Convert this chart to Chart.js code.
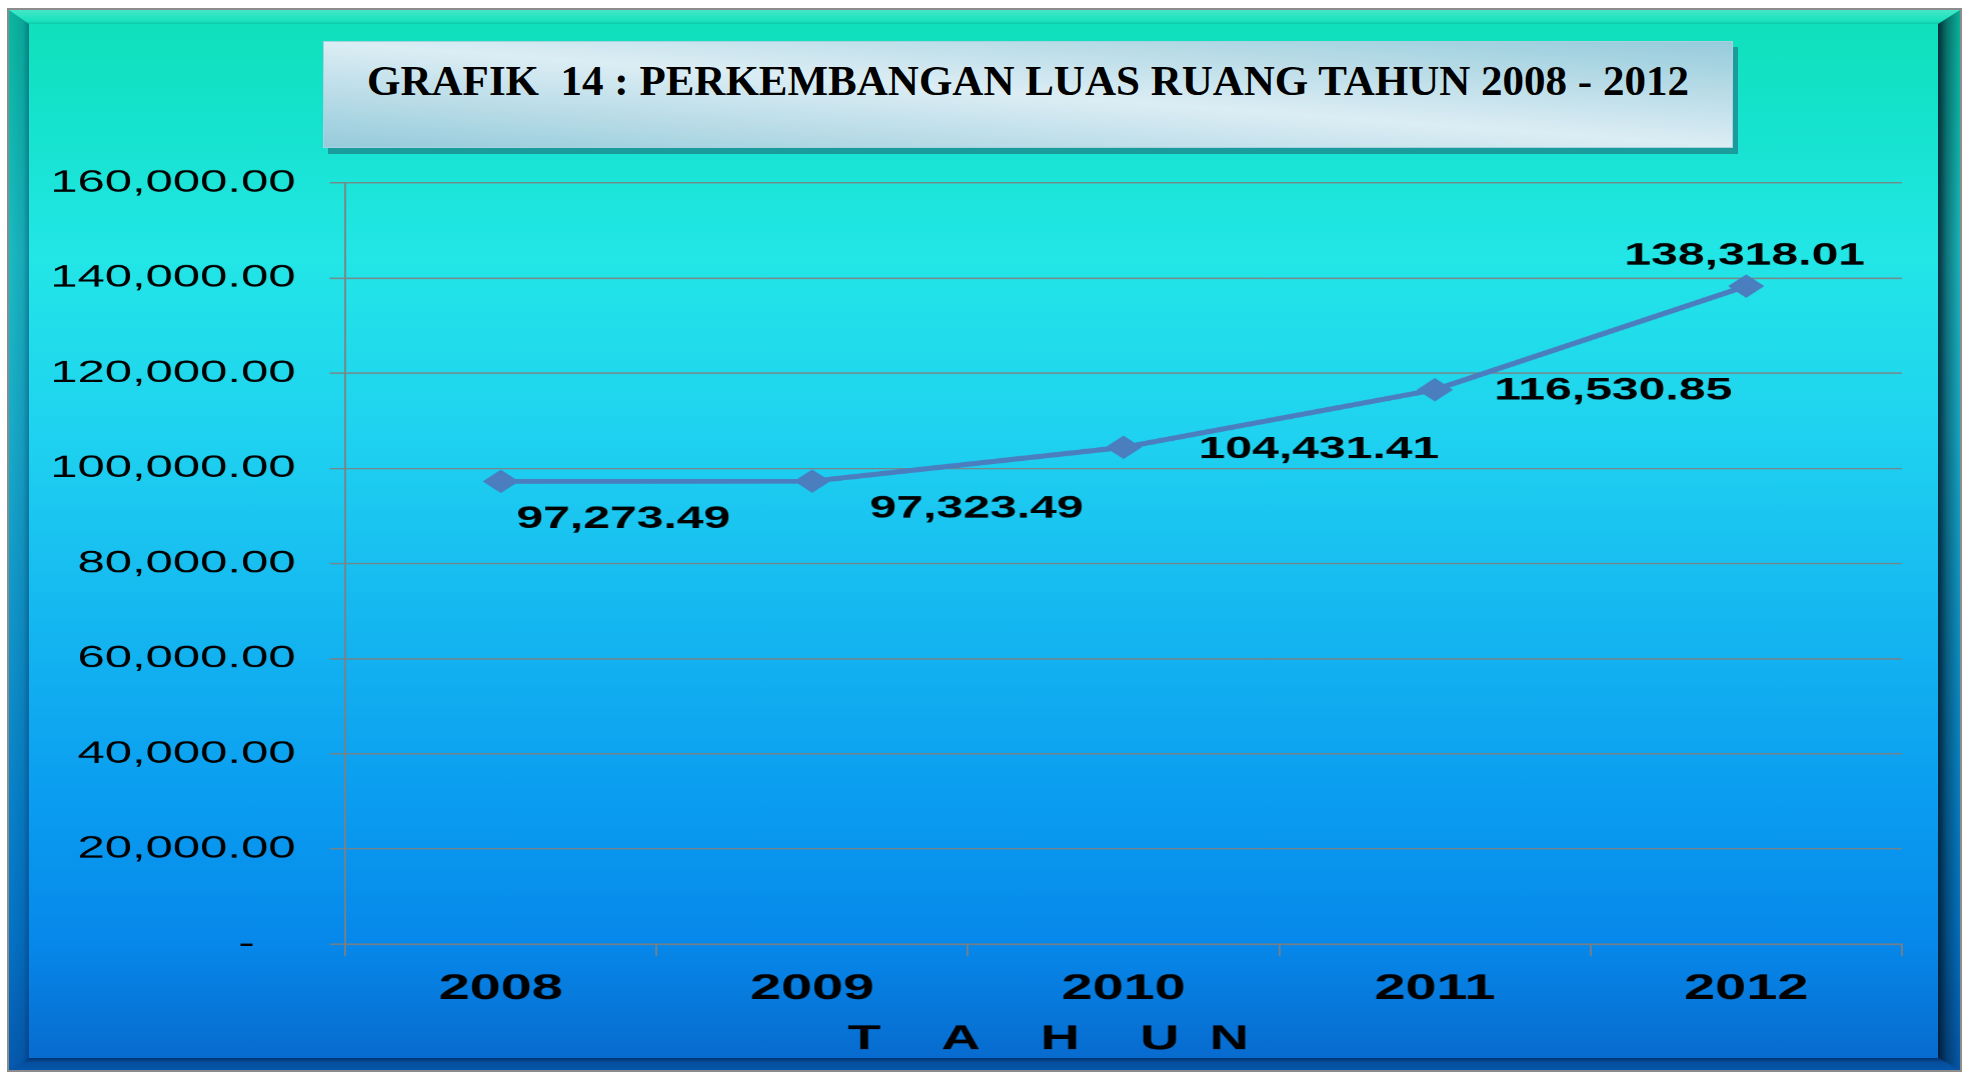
<!DOCTYPE html>
<html>
<head>
<meta charset="utf-8">
<script src="https://cdn.jsdelivr.net/npm/chart.js@4.4.1/dist/chart.umd.min.js"></script>
<style>
  html, body { margin: 0; padding: 0; background: #fff; }
  body { width: 1965px; height: 1075px; position: relative; overflow: hidden; }
  #frame {
    position: absolute; left: 7px; top: 8px; width: 1955px; height: 1064px;
    box-sizing: border-box; border: 2px solid #8c8c8c;
    background: linear-gradient(to bottom,
      #0fe0b8 0%, #14e2ca 9%, #22e6e6 23%, #1fd2f0 40%,
      #14b6f0 58%, #0a9cf0 75%, #0688ea 88%, #0868cc 100%);
  }
  .bev { position: absolute; }
  #bevTop { left: 0; top: 0; width: 100%; height: 14px;
    background: linear-gradient(to bottom, rgba(255,255,255,0.22), rgba(255,255,255,0.04) 80%, rgba(0,60,60,0.15));
    clip-path: polygon(0 0, 100% 0, calc(100% - 22px) 100%, 20px 100%); }
  #bevLeft { left: 0; top: 0; width: 20px; height: 100%;
    background: linear-gradient(to right, rgba(0,40,70,0.22), rgba(0,40,80,0.32) 70%, rgba(0,30,70,0.5));
    clip-path: polygon(0 0, 100% 14px, 100% calc(100% - 12px), 0 100%); }
  #bevRight { right: 0; top: 0; width: 22px; height: 100%;
    background: linear-gradient(to right, rgba(0,15,30,0.85), rgba(0,25,40,0.55) 40%, rgba(0,30,50,0.25));
    clip-path: polygon(0 14px, 100% 0, 100% 100%, 0 calc(100% - 12px)); }
  #bevBottom { left: 0; bottom: 0; width: 100%; height: 12px;
    background: linear-gradient(to bottom, rgba(0,20,60,0.65), rgba(0,30,70,0.35) 40%, rgba(0,30,70,0.25));
    clip-path: polygon(20px 0, calc(100% - 22px) 0, 100% 100%, 0 100%); }
  #titleBox {
    position: absolute; left: 323px; top: 41px; width: 1410px; height: 107px;
    box-sizing: border-box; border: 1px solid #a6d3df;
    background: linear-gradient(to top right, #96cbdb 0%, #dcedf4 50%, #96cbdb 100%);
    box-shadow: 5px 6px 0 #1a9c9c;
    font-family: "Liberation Serif", "Times New Roman", serif; font-weight: bold;
    font-size: 43px; line-height: 50px; text-align: center; white-space: pre;
    padding-top: 14px; color: #000;
  }
  #wrap {
    position: absolute; left: 10px; top: 142px; width: 1258px; height: 915px;
    transform: scaleX(1.55); transform-origin: 0 0;
  }
</style>
</head>
<body>
<div id="frame">
  <div class="bev" id="bevTop"></div>
  <div class="bev" id="bevLeft"></div>
  <div class="bev" id="bevRight"></div>
  <div class="bev" id="bevBottom"></div>
</div>
<div id="titleBox">GRAFIK  14 : PERKEMBANGAN LUAS RUANG TAHUN 2008 - 2012</div>
<div id="wrap"><canvas id="luasChart"></canvas></div>
<script>
const years = ['2008', '2009', '2010', '2011', '2012'];
const luasRuang = [97273.49, 97323.49, 104431.41, 116530.85, 138318.01];
const yTickLabels = ['-   ', '20,000.00', '40,000.00', '60,000.00', '80,000.00',
  '100,000.00', '120,000.00', '140,000.00', '160,000.00'];

// where each value label sits relative to its point (canvas units, before the x stretch)
const labelOffsets = [[79, 38], [106, 28], [126, 2], [115, 1], [-1, -30]];

const gridGray = 'rgba(128,128,128,0.9)';
Chart.defaults.font.family = '"Liberation Sans", Arial, sans-serif';
Chart.defaults.color = '#000';

const valueLabels = {
    id: 'valueLabels',
    afterDatasetsDraw(chart) {
        const ctx = chart.ctx;
        const meta = chart.getDatasetMeta(0);
        ctx.save();
        ctx.font = 'bold 31px "Liberation Sans", Arial, sans-serif';
        ctx.fillStyle = '#000';
        ctx.textAlign = 'center';
        ctx.textBaseline = 'middle';
        meta.data.forEach((pt, i) => {
            const txt = luasRuang[i].toLocaleString('en-US', { minimumFractionDigits: 2, maximumFractionDigits: 2 });
            ctx.fillText(txt, pt.x + labelOffsets[i][0], pt.y + labelOffsets[i][1]);
        });
        ctx.restore();
    }
};

const ctx = document.getElementById('luasChart').getContext('2d');
const luasChart = new Chart(ctx, {
    type: 'line',
    data: {
        labels: years,
        datasets: [{
            data: luasRuang,
            borderColor: '#4a7ebf',
            backgroundColor: '#4a7ebf',
            borderWidth: 5,
            pointStyle: 'rectRot',
            pointRadius: 11,
            pointBorderWidth: 1,
            tension: 0,
            fill: false
        }]
    },
    options: {
        responsive: true,
        maintainAspectRatio: false,
        devicePixelRatio: 1.55,
        animation: false,
        layout: { padding: { left: 4, right: 38, top: 0, bottom: 0 } },
        plugins: { legend: { display: false }, tooltip: { enabled: false } },
        scales: {
            x: {
                offset: true,
                grid: { offset: true, drawOnChartArea: false, drawTicks: true, tickLength: 12, color: gridGray, lineWidth: 1.3 },
                border: { display: true, color: gridGray, width: 1.5 },
                ticks: { font: { size: 36, weight: 'bold', lineHeight: 1.0 }, padding: 15 },
                title: {
                    display: true,
                    text: 'T    A    H    U  N          ',
                    font: { size: 35, weight: 'bold', lineHeight: 1.0 },
                    padding: { top: 0, bottom: 0 }
                }
            },
            y: {
                min: 0,
                max: 160000,
                ticks: {
                    stepSize: 20000,
                    font: { size: 31.6 },
                    padding: 22,
                    callback: (v, i) => yTickLabels[i]
                },
                grid: { color: gridGray, lineWidth: 1.5, tickLength: 10 },
                border: { display: true, color: gridGray, width: 1.3 }
            }
        }
    },
    plugins: [valueLabels]
});
</script>
</body>
</html>
